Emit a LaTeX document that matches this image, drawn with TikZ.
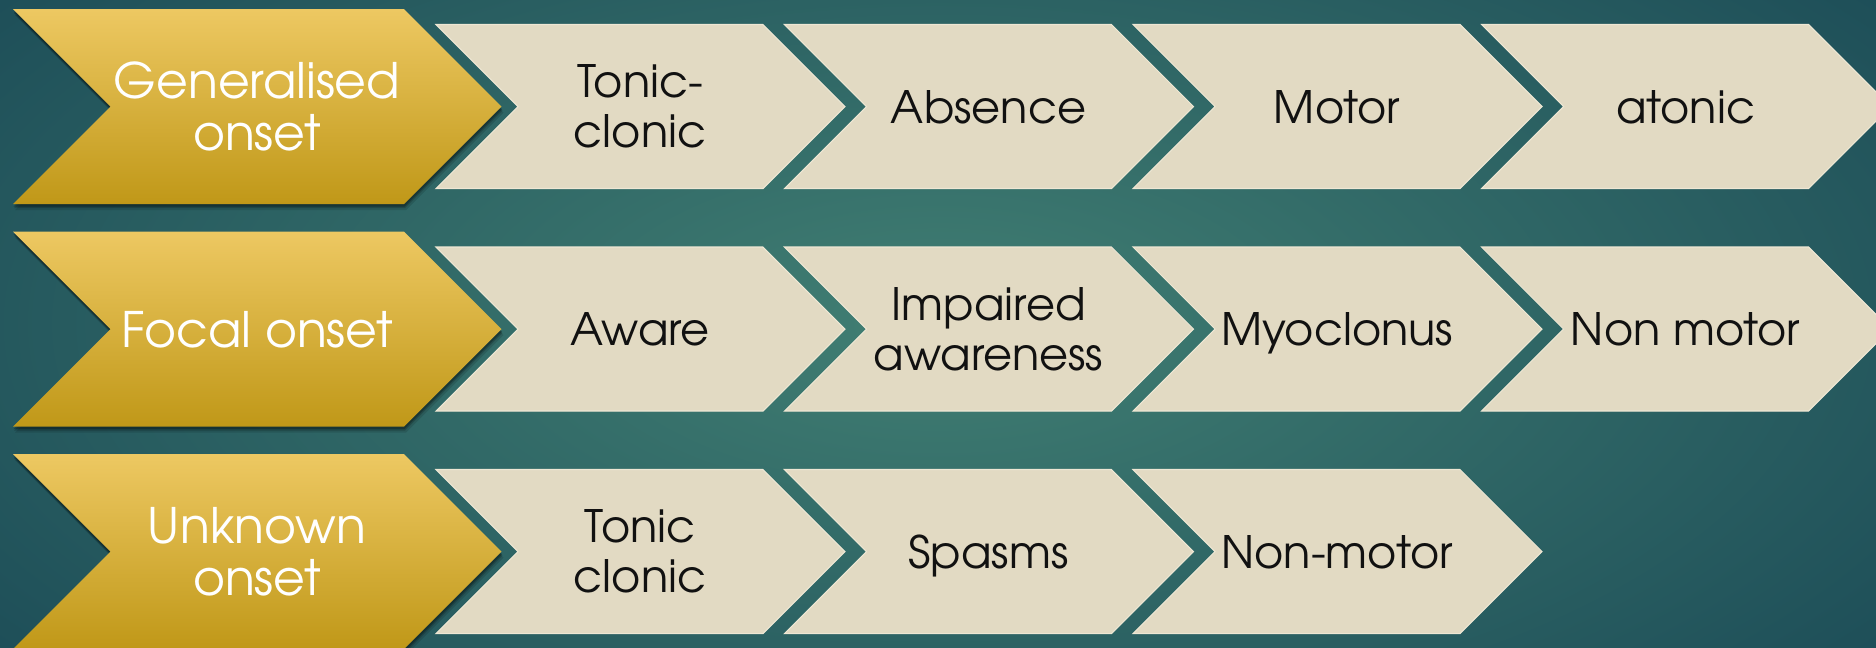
\documentclass[tikz,border=0pt]{standalone}
\usepackage{fontspec}
\setmainfont{texgyreadventor-regular.otf}
\usetikzlibrary{shadings}
\definecolor{bgin}{HTML}{417F73}
\definecolor{bgout}{HTML}{1C4C57}
\definecolor{goldtop}{HTML}{EDC862}
\definecolor{goldbot}{HTML}{C09818}
\definecolor{beige}{HTML}{E2DAC3}
\definecolor{beigeedge}{HTML}{EEE7D4}
\definecolor{txtdark}{HTML}{111111}
\tikzset{
  goldshape/.style={top color=goldtop, bottom color=goldbot},
  beigeshape/.style={fill=beige, draw=beigeedge, line width=0.3pt},
  goldtext/.style={text=white, align=center, font=\fontsize{13.9pt}{14.8pt}\selectfont, inner sep=0pt},
  beigetext/.style={text=txtdark, align=center, font=\fontsize{12.7pt}{14.2pt}\selectfont, inner sep=0pt},
  oneline/.style={text depth=0pt},
}
% #1 left x, #2 centre y, #3 body width, #4 height
\newcommand\ChevPath[4]{(#1,#2-#4/2) -- ++(#3,0) -- ++(#4/2,#4/2) -- ++(-#4/2,#4/2) -- ++(-#3,0) -- ++(#4/2,-#4/2) -- cycle}
\newcommand\GoldChev[2]{%
  \fill[black,opacity=0.12] \ChevPath{#1+2}{#2+6}{391}{195};
  \fill[black,opacity=0.18] \ChevPath{#1+1}{#2+4}{391}{195};
  \fill[black,opacity=0.25] \ChevPath{#1+0.5}{#2+2.5}{391}{195};
  \shade[goldshape] \ChevPath{#1}{#2}{391}{195};}
\newcommand\BeigeChev[2]{%
  \path[beigeshape] \ChevPath{#1}{#2}{327}{164};}
\begin{document}
\begin{tikzpicture}[x=0.01cm,y=-0.01cm]
\useasboundingbox (0,0) rectangle (1876,647);
\shade[inner color=bgin, outer color=bgout] (-300,-250) rectangle (2176,897);
% row centres: 106.5, 329, 551.5
\foreach \yc in {106.5,329,551.5} {\GoldChev{13}{\yc}}
\foreach \x in {436,784.5,1133,1481.5} {\BeigeChev{\x}{106.5}\BeigeChev{\x}{329}}
\foreach \x in {436,784.5,1133} {\BeigeChev{\x}{551.5}}
% texts
\node[goldtext] (g1) at (257,106.5) {Generalised\\onset};
\node[goldtext,oneline] (g2) at (257,329) {Focal onset};
\node[goldtext] (g3) at (257,551.5) {Unknown\\onset};
\node[beigetext] (a1) at (640,106.5) {Tonic-\\clonic};
\node[beigetext,oneline] (a2) at (988.5,106.5) {Absence};
\node[beigetext,oneline] (a3) at (1337,106.5) {Motor};
\node[beigetext,oneline] (a4) at (1685.5,106.5) {atonic};
\node[beigetext,oneline] (b1) at (640,329) {Aware};
\node[beigetext] (b2) at (988.5,329) {Impaired\\awareness};
\node[beigetext,oneline] (b3) at (1337,329) {Myoclonus};
\node[beigetext,oneline] (b4) at (1685.5,329) {Non motor};
\node[beigetext] (c1) at (640,551.5) {Tonic\\clonic};
\node[beigetext,oneline] (c2) at (988.5,551.5) {Spasms};
\node[beigetext,oneline] (c3) at (1337,551.5) {Non-motor};
\end{tikzpicture}
\end{document}
